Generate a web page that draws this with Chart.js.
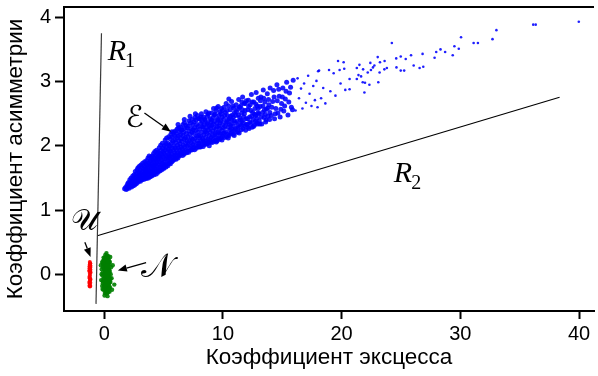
<!DOCTYPE html>
<html>
<head>
<meta charset="utf-8">
<script src="https://cdn.jsdelivr.net/npm/chart.js@4/dist/chart.umd.min.js"></script>
<style>
html, body { margin: 0; padding: 0; background: #fff; }
canvas { display: block; }
</style>
</head>
<body>
<canvas id="chart" width="598" height="376"></canvas>
<script>
// Tick values of both axes
const xTicks = [0, 10, 20, 30, 40];
const yTicks = [0, 1, 2, 3, 4];

// Sample (kurtosis, skewness) pairs: uniform distribution
const uniformSample = [
  [-1.21,0.01],[-1.18,-0.09],[-1.24,0.12],[-1.16,0.07],[-1.22,-0.15],[-1.19,0.17],[-1.25,-0.04],[-1.17,-0.18],[-1.20,0.09],[-1.23,-0.11],
  [-1.15,0.03],[-1.26,0.05],[-1.19,-0.06],[-1.22,0.15],[-1.17,-0.13],[-1.21,0.19],[-1.24,-0.18],[-1.18,0.11],[-1.20,-0.02],[-1.16,-0.08],
  [-1.23,0.06],[-1.19,0.14],[-1.25,-0.13],[-1.21,-0.17],[-1.17,0.17],[-1.22,-0.06],[-1.18,0.04],[-1.24,0.09],[-1.20,-0.19],[-1.16,0.13]
];

// Sample (kurtosis, skewness) pairs: normal distribution
const normalSample = [
  [0.21,0.02],[0.05,-0.11],[0.34,0.09],[-0.08,0.15],[0.18,-0.21],[0.42,-0.04],[0.11,0.24],[-0.15,-0.02],[0.27,0.17],[0.03,0.07],
  [0.38,-0.15],[-0.02,-0.19],[0.15,0.12],[0.29,-0.08],[0.47,0.05],[-0.21,0.08],[0.08,-0.03],[0.22,0.21],[0.35,0.28],[-0.05,0.26],
  [0.13,-0.27],[0.31,-0.24],[0.52,-0.12],[0.01,-0.06],[0.19,0.06],[-0.11,-0.14],[0.25,-0.13],[0.44,0.16],[0.06,0.18],[0.17,-0.09],
  [0.36,0.01],[-0.18,0.19],[0.09,0.30],[0.24,-0.30],[0.58,0.11],[-0.25,-0.09],[0.12,-0.16],[0.40,0.22],[0.02,0.13],[0.28,0.04],
  [0.16,0.27],[-0.07,-0.24],[0.33,-0.19],[0.49,-0.21],[0.20,-0.05],[0.07,0.10],[-0.13,0.03],[0.26,0.13],[0.39,-0.09],[0.14,0.17],
  [0.04,-0.15],[0.30,0.24],[-0.03,0.20],[0.23,-0.17],[0.55,0.00],[0.10,-0.22],[0.32,0.14],[-0.17,-0.18],[0.45,-0.27],[0.18,0.09],
  [0.00,0.01],[0.37,0.20],[0.09,-0.08],[0.27,-0.22],[-0.09,0.11],[0.21,0.19],[0.62,-0.06],[0.13,0.04],[0.35,-0.02],[-0.22,0.00],
  [0.06,-0.29],[0.29,0.10],[0.48,0.19],[0.17,-0.12],[-0.01,0.23],[0.41,0.07],[0.11,0.15],[0.24,-0.01],[0.33,-0.28],[-0.06,-0.07],
  [0.19,0.33],[0.72,0.14],[0.85,-0.16],[0.66,-0.24],[0.03,-0.33],[0.28,-0.34],[-0.28,0.14],[0.51,0.27],[0.14,-0.02],[0.36,0.10],
  [0.08,0.05],[0.22,-0.11],[0.43,-0.18],[-0.10,0.17],[0.16,0.22],[0.31,-0.05],[0.05,-0.17],[0.26,0.29],[0.53,-0.07],[-0.14,-0.23],
  [0.15,0.00],[0.25,0.08],[0.10,0.12],[0.30,-0.12],[0.05,0.02],[0.20,-0.15],[0.35,0.18],[0.12,-0.25],[0.28,0.26],[-0.04,0.09],
  [0.40,-0.22],[0.18,0.14],[0.08,-0.20],[0.32,-0.01],[0.23,0.11],[-0.12,-0.11],[0.44,0.02],[0.14,0.21],[0.26,-0.26],[0.02,-0.02],
  [0.37,0.13],[0.11,-0.10],[0.21,-0.24],[0.30,0.20],[-0.08,0.21],[0.46,-0.12],[0.17,0.03],[0.06,0.26],[0.34,-0.16],[0.24,0.24]
];

// Sample (kurtosis, skewness) pairs: exponential distribution
const expSample = [
  [1.72,1.33],[1.80,1.35],[1.86,1.32],[1.91,1.38],[1.95,1.34],[1.98,1.41],
  [2.02,1.36],[2.05,1.43],[2.09,1.34],[2.12,1.39],[2.16,1.47],[2.19,1.37],[2.23,1.42],[2.27,1.50],[2.30,1.36],[2.34,1.45],[2.38,1.40],[2.41,1.53],[2.45,1.38],[2.48,1.48],
  [2.51,1.42],[2.53,1.55],[2.56,1.39],[2.58,1.49],[2.62,1.60],[2.64,1.45],[2.67,1.52],[2.70,1.41],[2.72,1.57],[2.75,1.47],[2.78,1.63],[2.80,1.43],[2.83,1.53],[2.85,1.66],[2.88,1.49],[2.90,1.45],[2.93,1.59],[2.95,1.55],[2.97,1.68],[2.99,1.47],
  [3.01,1.51],[3.03,1.62],[3.05,1.45],[3.08,1.57],[3.10,1.70],[3.12,1.49],[3.15,1.66],[3.17,1.53],[3.20,1.47],[3.22,1.60],[3.24,1.73],[3.27,1.55],[3.29,1.50],[3.31,1.64],[3.34,1.69],[3.36,1.48],[3.38,1.58],[3.41,1.75],[3.43,1.53],[3.45,1.62],[3.47,1.67],[3.48,1.50],[3.50,1.72],[3.46,1.57],
  [3.52,1.55],[3.54,1.64],[3.56,1.49],[3.58,1.77],[3.60,1.60],[3.62,1.70],[3.65,1.52],[3.67,1.66],[3.69,1.81],[3.71,1.57],[3.73,1.50],[3.75,1.73],[3.77,1.62],[3.79,1.84],[3.81,1.55],[3.83,1.68],[3.85,1.76],[3.87,1.52],[3.89,1.60],[3.91,1.71],[3.93,1.82],[3.95,1.56],[3.96,1.65],[3.98,1.78],[3.99,1.53],[3.64,1.59],
  [4.01,1.61],[4.02,1.72],[4.04,1.54],[4.06,1.84],[4.08,1.66],[4.10,1.78],[4.12,1.57],[4.14,1.69],[4.16,1.88],[4.17,1.62],[4.19,1.75],[4.21,1.55],[4.23,1.81],[4.25,1.65],[4.27,1.91],[4.29,1.59],[4.31,1.72],[4.33,1.85],[4.35,1.63],[4.37,1.78],[4.39,1.56],[4.41,1.93],[4.43,1.69],[4.45,1.82],[4.46,1.60],[4.48,1.75],[4.49,1.88],[4.28,1.70],
  [4.51,1.64],[4.53,1.79],[4.54,1.59],[4.56,1.90],[4.58,1.71],[4.60,1.84],[4.62,1.62],[4.64,1.97],[4.66,1.75],[4.68,1.67],[4.70,1.88],[4.72,1.61],[4.74,1.81],[4.76,2.01],[4.78,1.70],[4.80,1.93],[4.82,1.65],[4.84,1.77],[4.86,1.86],[4.88,1.63],[4.90,2.04],[4.91,1.73],[4.93,1.96],[4.95,1.68],[4.96,1.83],[4.98,1.91],[4.99,1.66],[4.67,1.83],
  [5.01,1.75],[5.03,1.88],[5.04,1.65],[5.06,2.00],[5.08,1.80],[5.10,1.69],[5.12,1.93],[5.14,2.09],[5.16,1.72],[5.18,1.85],[5.20,1.67],[5.22,1.97],[5.24,1.79],[5.26,2.12],[5.28,1.71],[5.30,1.90],[5.32,1.83],[5.34,2.04],[5.36,1.69],[5.38,1.77],[5.40,1.95],[5.42,1.86],[5.44,2.14],[5.45,1.73],[5.47,2.01],[5.48,1.81],[5.50,1.92],[5.19,2.03],
  [5.51,1.74],[5.53,1.99],[5.54,1.84],[5.56,2.11],[5.58,1.72],[5.60,1.91],[5.62,2.18],[5.64,1.79],[5.66,2.04],[5.68,1.87],[5.70,1.75],[5.72,1.96],[5.74,2.14],[5.76,1.82],[5.78,2.07],[5.80,1.77],[5.82,1.93],[5.84,2.21],[5.86,1.85],[5.88,2.00],[5.90,1.79],[5.92,2.16],[5.94,1.89],[5.95,2.09],[5.97,1.81],[5.98,1.97],[5.99,2.23],[5.71,2.22],
  [6.01,1.86],[6.03,2.05],[6.05,1.79],[6.07,2.19],[6.09,1.94],[6.11,1.82],[6.13,2.12],[6.15,2.26],[6.17,1.89],[6.19,2.01],[6.21,1.81],[6.23,2.15],[6.25,1.97],[6.27,2.28],[6.29,1.87],[6.31,2.08],[6.33,1.84],[6.35,2.22],[6.37,1.93],[6.39,2.03],[6.41,1.86],[6.43,2.17],[6.45,2.29],[6.46,1.98],[6.47,1.90],[6.48,2.11],[6.50,2.24],[6.22,2.33],
  [6.52,1.88],[6.54,2.07],[6.56,2.25],[6.58,1.95],[6.60,1.85],[6.62,2.16],[6.64,2.33],[6.66,2.01],[6.68,1.91],[6.70,2.21],[6.72,1.87],[6.74,2.10],[6.76,2.36],[6.78,1.98],[6.80,2.27],[6.82,1.90],[6.84,2.13],[6.86,2.04],[6.88,2.32],[6.90,1.93],[6.92,2.19],[6.94,1.89],[6.96,2.08],[6.97,2.28],[6.99,2.00],[6.75,2.41],
  [7.02,1.92],[7.04,2.14],[7.06,2.31],[7.09,2.02],[7.11,1.90],[7.13,2.23],[7.15,2.39],[7.18,2.08],[7.20,1.96],[7.22,2.18],[7.25,2.35],[7.27,1.93],[7.29,2.05],[7.31,2.27],[7.34,2.12],[7.36,1.99],[7.38,2.41],[7.40,2.21],[7.42,1.94],[7.44,2.10],[7.46,2.33],[7.48,2.02],[7.49,2.25],[7.23,2.46],
  [7.52,1.97],[7.54,2.19],[7.56,2.37],[7.58,2.06],[7.61,1.94],[7.63,2.28],[7.65,2.44],[7.67,2.12],[7.70,2.00],[7.72,2.24],[7.74,2.40],[7.76,1.96],[7.79,2.15],[7.81,2.33],[7.83,2.08],[7.85,2.47],[7.87,1.99],[7.89,2.21],[7.91,2.30],[7.93,2.04],[7.95,2.16],[7.97,2.42],[7.99,1.98],[7.68,2.50],
  [8.02,2.04],[8.04,2.26],[8.07,2.42],[8.09,1.99],[8.12,2.15],[8.14,2.35],[8.17,2.08],[8.19,2.50],[8.22,2.01],[8.24,2.21],[8.27,2.38],[8.29,2.11],[8.32,2.29],[8.34,1.99],[8.37,2.45],[8.39,2.17],[8.42,2.05],[8.44,2.33],[8.47,2.24],[8.49,2.02],
  [8.52,2.40],[8.54,2.13],[8.57,2.53],[8.59,2.07],[8.62,2.28],[8.64,2.19],[8.67,2.03],[8.69,2.46],[8.72,2.36],[8.74,2.10],[8.77,2.25],[8.79,2.05],[8.82,2.51],[8.84,2.16],[8.87,2.31],[8.89,2.09],[8.92,2.42],[8.94,2.21],[8.97,2.06],[8.99,2.37],
  [8.05,2.12],[8.15,2.45],[8.25,2.30],[8.35,2.08],[8.45,2.41],[8.55,2.22],[8.65,2.34],[8.75,2.49],[8.85,2.00],[8.95,2.28],[8.11,1.98],[8.60,2.04],
  [9.02,2.13],[9.05,2.32],[9.07,2.51],[9.10,2.05],[9.13,2.23],[9.16,2.44],[9.18,2.10],[9.21,2.58],[9.24,2.28],[9.27,2.07],[9.29,2.38],[9.32,2.17],[9.35,2.49],[9.38,2.09],[9.41,2.26],[9.43,2.55],[9.46,2.14],[9.49,2.35],
  [9.52,2.08],[9.54,2.42],[9.57,2.21],[9.60,2.61],[9.63,2.12],[9.66,2.31],[9.68,2.47],[9.71,2.10],[9.74,2.27],[9.77,2.53],[9.79,2.18],[9.82,2.39],[9.85,2.12],[9.88,2.58],[9.91,2.24],[9.93,2.45],[9.96,2.15],[9.98,2.33],
  [9.04,2.40],[9.12,2.16],[9.20,2.34],[9.28,2.48],[9.36,2.20],[9.44,2.06],[9.52,2.30],[9.60,2.40],[9.68,2.20],[9.76,2.36],[9.84,2.50],[9.92,2.09],[9.97,2.55],[9.47,2.59],
  [10.03,2.19],[10.07,2.41],[10.10,2.60],[10.13,2.13],[10.17,2.30],[10.20,2.52],[10.24,2.22],[10.27,2.66],[10.31,2.14],[10.34,2.37],[10.38,2.47],[10.41,2.18],[10.45,2.29],[10.48,2.62],[10.52,2.16],[10.55,2.42],[10.59,2.25],[10.62,2.56],[10.66,2.19],[10.69,2.34],[10.73,2.69],[10.76,2.21],[10.80,2.48],[10.83,2.31],[10.87,2.18],[10.90,2.59],[10.93,2.39],[10.96,2.24],[10.98,2.52],[10.50,2.73],
  [10.05,2.28],[10.15,2.47],[10.25,2.35],[10.35,2.55],[10.45,2.12],[10.55,2.33],[10.65,2.46],[10.75,2.40],[10.85,2.62],[10.95,2.16],[10.12,2.20],[10.42,2.40],[10.71,2.27],[10.88,2.45],
  [11.04,2.26],[11.08,2.47],[11.12,2.64],[11.16,2.21],[11.20,2.38],[11.25,2.57],[11.29,2.28],[11.33,2.72],[11.37,2.20],[11.41,2.44],[11.45,2.33],[11.50,2.62],[11.54,2.25],[11.58,2.51],[11.62,2.39],[11.66,2.76],[11.70,2.27],[11.75,2.45],[11.79,2.66],[11.83,2.31],[11.87,2.55],[11.91,2.24],[11.95,2.42],[11.98,2.70],
  [11.06,2.36],[11.14,2.53],[11.23,2.30],[11.31,2.48],[11.40,2.60],[11.48,2.40],[11.56,2.32],[11.64,2.56],[11.72,2.36],[11.81,2.50],[11.89,2.66],[11.97,2.33],[11.27,2.22],[11.60,2.68],
  [12.05,2.33],[12.10,2.56],[12.15,2.71],[12.20,2.27],[12.25,2.45],[12.30,2.64],[12.35,2.35],[12.40,2.80],[12.45,2.29],[12.50,2.52],[12.55,2.41],[12.60,2.68],[12.65,2.32],[12.70,2.58],[12.75,2.47],[12.80,2.83],[12.85,2.36],[12.90,2.62],[12.95,2.51],[12.98,2.74],
  [12.07,2.42],[12.17,2.61],[12.27,2.37],[12.37,2.55],[12.47,2.68],[12.57,2.30],[12.67,2.49],[12.77,2.65],[12.87,2.43],[12.97,2.58],[12.12,2.29],[12.42,2.46],[12.72,2.38],[12.92,2.34],
  [13.06,2.39],[13.13,2.61],[13.20,2.76],[13.27,2.34],[13.33,2.52],[13.40,2.87],[13.47,2.44],[13.54,2.68],[13.60,2.37],[13.67,2.57],[13.74,2.81],[13.80,2.46],[13.87,2.64],[13.93,2.41],[13.98,2.90],
  [13.03,2.50],[13.16,2.70],[13.24,2.45],[13.37,2.62],[13.44,2.74],[13.57,2.49],[13.64,2.40],[13.77,2.59],[13.84,2.72],[13.96,2.52],[13.50,2.56],[13.10,2.34],
  [14.08,2.47],[14.19,2.69],[14.27,2.86],[14.35,2.42],[14.46,2.58],[14.55,2.95],[14.63,2.51],[14.74,2.77],[14.82,2.45],[14.94,2.66],[15.05,2.90],[15.13,2.54],[15.26,2.73],[15.37,2.99],[15.48,2.48],[15.61,2.82],[15.77,2.60],[15.92,3.02],
  [14.12,2.60],[14.31,2.76],[14.41,2.50],[14.58,2.70],[14.70,2.88],[14.88,2.57],[15.01,2.76],[15.20,2.62],[15.32,2.85],[15.55,2.68],[15.70,2.91],[15.86,2.56],
  [16.12,2.55],[16.29,3.05],[16.41,2.74],[16.58,2.89],[16.70,2.58],[16.84,2.97],[16.99,2.67],[17.18,3.09],[17.30,2.81],[17.46,2.62],[17.61,2.93],[17.75,2.71],[17.88,3.01],[17.97,2.60],
  [18.02,3.16],[18.10,3.17],[18.27,2.74],[18.45,2.90],[18.63,2.66],[18.94,3.18],[19.05,2.85],[19.33,3.13],[19.48,2.78],[19.70,3.32],[19.83,3.18],[19.91,2.97],
  [20.17,3.30],[20.22,3.20],[20.31,2.87],[20.67,3.04],[20.67,2.88],[21.28,3.21],[21.28,3.04],[21.42,3.10],[21.50,3.26],[21.64,3.08],[21.78,2.99],[21.81,3.19],[21.92,2.83],[21.97,2.98],
  [22.20,3.14],[22.34,2.95],[22.42,3.29],[22.47,3.18],[22.64,3.22],[22.76,3.25],[23.04,3.38],[23.09,2.99],[23.20,3.14],[23.23,3.30],[23.60,3.19],[23.62,3.32],[23.81,3.21],
  [24.23,3.60],[24.60,3.36],[24.62,3.22],[24.98,3.39],[24.98,3.17],[25.27,3.17],[25.40,3.35],[25.85,3.41],[26.07,3.25],[26.57,3.21],[26.82,3.43],[26.88,3.23],
  [27.83,3.37],[27.97,3.46],[28.33,3.50],[28.72,3.46],[29.36,3.41],[29.50,3.55],[29.87,3.51],
  [30.06,3.69],[31.12,3.60],[31.48,3.60],[32.71,3.66],[33.04,3.80],[36.14,3.885],[36.35,3.885],[39.98,3.93]
];

// Boundary lines R1 and R2, as (kurtosis, skewness) end points
const boundR1 = [[-0.69,-0.46],[-0.23,3.75]];
const boundR2 = [[-0.58,0.60],[38.36,2.755]];

// Axis titles
const xTitle = 'Коэффициент эксцесса';
const yTitle = 'Коэффициент асимметрии';

// Text labels and arrows placed in data coordinates
const labelStyle = {
  letter: 'italic 30px "Liberation Serif", "Times New Roman", serif',
  subscript: '20px "Liberation Serif", "Times New Roman", serif',
  script: '30px "DejaVu Serif", "DejaVu Sans", serif',
  scriptLarge: '34px "DejaVu Serif", "DejaVu Sans", serif'
};
const curveLabels = [
  { text: 'R', sub: '1', x: 0.29, y: 3.335, font: 'letter' },
  { text: 'R', sub: '2', x: 24.4, y: 1.437, font: 'letter' },
  { text: '\u2130', x: 1.8, y: 2.30, font: 'script' },
  { text: '\uD835\uDCB0', x: -2.8, y: 0.69, font: 'script' },
  { text: '\uD835\uDCA9', x: 3.1, y: -0.04, font: 'scriptLarge' }
];
const labelArrows = [
  { from: [3.39, 2.51], to: [5.62, 2.22] },
  { from: [-1.63, 0.50], to: [-1.15, 0.27] },
  { from: [3.53, 0.18], to: [1.15, 0.06] }
];

const frameAndNotes = {
  id: 'frameAndNotes',
  afterDatasetsDraw(chart) {
    const { ctx, chartArea, scales } = chart;
    const sx = scales.x, sy = scales.y;
    ctx.save();
    // upper frame edge
    ctx.strokeStyle = '#000';
    ctx.lineWidth = 2;
    ctx.beginPath();
    ctx.moveTo(chartArea.left - 1, chartArea.top);
    ctx.lineTo(chartArea.right, chartArea.top);
    ctx.stroke();

    // labels
    ctx.fillStyle = '#000';
    ctx.textBaseline = 'alphabetic';
    ctx.textAlign = 'left';
    curveLabels.forEach(l => {
      const px = sx.getPixelForValue(l.x);
      const py = sy.getPixelForValue(l.y);
      ctx.font = labelStyle[l.font];
      ctx.fillText(l.text, px, py);
      if (l.sub) {
        const w = ctx.measureText(l.text).width;
        ctx.font = labelStyle.subscript;
        ctx.fillText(l.sub, px + w - 1, py + 7);
      }
    });

    // arrows
    ctx.lineWidth = 1.3;
    labelArrows.forEach(a => {
      const x0 = sx.getPixelForValue(a.from[0]), y0 = sy.getPixelForValue(a.from[1]);
      const x1 = sx.getPixelForValue(a.to[0]), y1 = sy.getPixelForValue(a.to[1]);
      const ang = Math.atan2(y1 - y0, x1 - x0);
      const head = 9, half = 3.6;
      const bx = x1 - head * Math.cos(ang), by = y1 - head * Math.sin(ang);
      ctx.beginPath();
      ctx.moveTo(x0, y0);
      ctx.lineTo(bx, by);
      ctx.stroke();
      ctx.beginPath();
      ctx.moveTo(x1, y1);
      ctx.lineTo(bx + half * Math.sin(ang), by - half * Math.cos(ang));
      ctx.lineTo(bx - half * Math.sin(ang), by + half * Math.cos(ang));
      ctx.closePath();
      ctx.fill();
    });
    ctx.restore();
  }
};

const tickFont = { family: '"Liberation Sans", Arial, sans-serif', size: 20 };
const titleFont = { family: '"Liberation Sans", Arial, sans-serif', size: 22.5 };

new Chart(document.getElementById('chart'), {
  type: 'scatter',
  data: {
    datasets: [
      {
        label: 'R1', data: boundR1, showLine: true, pointRadius: 0,
        borderColor: '#3a3a3a', borderWidth: 1.2
      },
      {
        label: 'R2', data: boundR2, showLine: true, pointRadius: 0,
        borderColor: '#000', borderWidth: 1.2
      },
      {
        label: 'E', data: expSample,
        pointRadius: ctx => (ctx.raw && ctx.raw[0] < 16 ? 2.5 : 1.3),
        pointBorderWidth: 0,
        backgroundColor: 'rgba(0,0,255,0.88)', borderColor: 'rgba(0,0,255,0)'
      },
      {
        label: 'U', data: uniformSample, pointRadius: 2, pointBorderWidth: 0,
        backgroundColor: 'rgba(255,0,0,0.9)', borderColor: 'rgba(255,0,0,0)'
      },
      {
        label: 'N', data: normalSample, pointRadius: 2.2, pointBorderWidth: 0,
        backgroundColor: 'rgba(0,128,0,0.9)', borderColor: 'rgba(0,128,0,0)'
      }
    ]
  },
  options: {
    responsive: false,
    animation: false,
    devicePixelRatio: 1,
    layout: { padding: { top: 7, right: 0, bottom: 0, left: 0 } },
    plugins: { legend: { display: false }, tooltip: { enabled: false } },
    scales: {
      x: {
        type: 'linear', min: -3.386, max: 41.26,
        afterBuildTicks: s => { s.ticks = xTicks.map(v => ({ value: v })); },
        afterFit: s => { s.height = 65; s.paddingLeft = 0; s.paddingRight = 0; },
        ticks: { color: '#000', font: tickFont, padding: 3, maxRotation: 0 },
        grid: { drawOnChartArea: false, drawTicks: true, tickLength: 8, tickWidth: 2, tickColor: '#000' },
        border: { display: true, color: '#000', width: 2 },
        title: { display: true, text: xTitle, color: '#000', font: titleFont, padding: { top: 0, bottom: 5 } }
      },
      y: {
        type: 'linear', min: -0.571, max: 4.16,
        afterBuildTicks: s => { s.ticks = yTicks.map(v => ({ value: v })); },
        afterFit: s => { s.width = 64; s.paddingTop = 0; s.paddingBottom = 0; },
        ticks: { color: '#000', font: tickFont, padding: 4 },
        grid: { drawOnChartArea: false, drawTicks: true, tickLength: 9, tickWidth: 2, tickColor: '#000' },
        border: { display: true, color: '#000', width: 2 },
        title: { display: true, text: yTitle, color: '#000', font: titleFont, padding: { top: 2, bottom: 0 } }
      }
    }
  },
  plugins: [frameAndNotes]
});
</script>
</body>
</html>
